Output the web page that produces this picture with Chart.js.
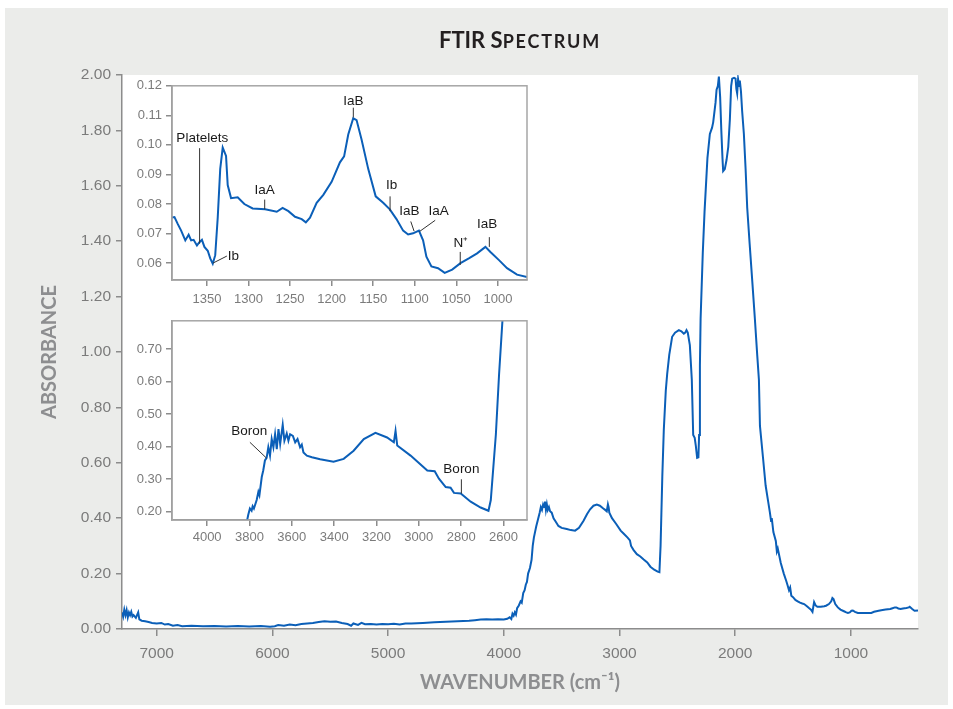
<!DOCTYPE html>
<html>
<head>
<meta charset="utf-8">
<title>FTIR Spectrum</title>
<script src="https://cdn.jsdelivr.net/npm/chart.js@4.4.1/dist/chart.umd.min.js"></script>
<style>
  html, body { margin: 0; padding: 0; background: #fff; }
  #page { position: relative; width: 953px; height: 709px; overflow: hidden; }
  #panel { position: absolute; left: 5px; top: 8px; width: 943px; height: 697px; background: #ebecea; }
  canvas { position: absolute; }
  #mainChart { left: 0; top: 0; }
  #insetTop { left: 120px; top: 74px; }
  #insetBottom { left: 120px; top: 309px; }
  #title {
    position: absolute; left: 122px; width: 796px; top: 26px;
    text-align: center; font-family: Lato, sans-serif; font-weight: 700;
    font-size: 22px; color: #231f20; line-height: 28px;
  }
  #title .sc { font-size: 18px; letter-spacing: 1.8px; }
</style>
</head>
<body>
<div id="page">
  <div id="panel"></div>
  <canvas id="mainChart" width="953" height="709"></canvas>
  <canvas id="insetTop" width="415" height="235"></canvas>
  <canvas id="insetBottom" width="415" height="245"></canvas>
  <div id="title">FTIR S<span class="sc">PECTRUM</span></div>
</div>
<script>
// ---- main spectrum (wavenumber in cm-1, absorbance) ----
const mainWavenumber = [
  7300, 7290, 7280, 7270, 7260, 7250, 7240, 7230, 7220, 7210,
  7200, 7180, 7160, 7150, 7130, 7100, 7070, 7040, 7000, 6960,
  6930, 6900, 6860, 6820, 6780, 6700, 6600, 6500, 6400, 6300,
  6200, 6100, 6020, 5980, 5950, 5900, 5850, 5800, 5750, 5700,
  5650, 5600, 5550, 5500, 5450, 5400, 5350, 5320, 5300, 5260,
  5230, 5200, 5150, 5100, 5050, 5000, 4950, 4900, 4850, 4800,
  4700, 4600, 4500, 4400, 4300, 4250, 4200, 4150, 4100, 4050,
  4000, 3970, 3950, 3935, 3925, 3915, 3905, 3895, 3885, 3870,
  3855, 3845, 3832, 3820, 3810, 3800, 3790, 3774, 3760, 3750,
  3740, 3720, 3702, 3690, 3680, 3670, 3660, 3650, 3644, 3636,
  3628, 3620, 3610, 3600, 3586, 3570, 3555, 3540, 3528, 3500,
  3456, 3420, 3384, 3350, 3312, 3280, 3254, 3225, 3196, 3170,
  3140, 3124, 3110, 3100, 3094, 3088, 3065, 3030, 2990, 2965,
  2930, 2910, 2900, 2878, 2850, 2820, 2791, 2760, 2733, 2700,
  2670, 2655, 2645, 2630, 2617, 2600, 2588, 2570, 2545, 2520,
  2487, 2465, 2444, 2432, 2421, 2410, 2392, 2375, 2363, 2350,
  2340, 2329, 2318, 2312, 2305, 2299, 2280, 2265, 2240, 2219,
  2200, 2190, 2170, 2161, 2150, 2141, 2136, 2130, 2120, 2110,
  2104, 2090, 2075, 2060, 2046, 2035, 2026, 2010, 1997, 1990,
  1983, 1975, 1965, 1960, 1950, 1940, 1925, 1910, 1896, 1875,
  1852, 1830, 1809, 1795, 1786, 1760, 1737, 1715, 1700, 1690,
  1684, 1670, 1649, 1640, 1632, 1606, 1580, 1560, 1548, 1535,
  1525, 1515, 1500, 1480, 1460, 1440, 1420, 1404, 1380, 1360,
  1345, 1332, 1325, 1318, 1305, 1290, 1260, 1230, 1215, 1190,
  1170, 1160, 1150, 1135, 1113, 1090, 1060, 1040, 1026, 1010,
  995, 983, 965, 940, 900, 860, 824, 800, 760, 738,
  700, 660, 640, 620, 608, 590, 570, 550, 536, 520,
  500, 492, 470, 450, 420
];
const mainAbsorbance = [
  0.06, 0.045, 0.07, 0.05, 0.068, 0.042, 0.06, 0.05, 0.062, 0.045,
  0.05, 0.04, 0.06, 0.035, 0.03, 0.028, 0.025, 0.022, 0.02, 0.022,
  0.016, 0.018, 0.012, 0.014, 0.01, 0.012, 0.01, 0.011, 0.009, 0.011,
  0.009, 0.011, 0.008, 0.01, 0.014, 0.012, 0.016, 0.014, 0.018, 0.02,
  0.022, 0.025, 0.028, 0.026, 0.027, 0.022, 0.018, 0.012, 0.02, 0.015,
  0.022, 0.017, 0.018, 0.016, 0.018, 0.017, 0.019, 0.016, 0.02, 0.02,
  0.022, 0.024, 0.026, 0.028, 0.03, 0.032, 0.034, 0.035, 0.034, 0.035,
  0.034, 0.037, 0.042, 0.036, 0.055, 0.048, 0.06, 0.052, 0.075, 0.085,
  0.1, 0.095, 0.13, 0.14, 0.16, 0.17, 0.2, 0.22, 0.25, 0.3,
  0.33, 0.37, 0.40, 0.42, 0.44, 0.43, 0.45, 0.44, 0.46, 0.43,
  0.45, 0.43, 0.44, 0.425, 0.42, 0.40, 0.39, 0.38, 0.372, 0.365,
  0.361, 0.357, 0.355, 0.365, 0.39, 0.415, 0.432, 0.445, 0.449, 0.445,
  0.435, 0.43, 0.425, 0.45, 0.44, 0.42, 0.40, 0.38, 0.355, 0.345,
  0.33, 0.32, 0.30, 0.285, 0.27, 0.262, 0.251, 0.24, 0.225, 0.214,
  0.207, 0.205, 0.30, 0.55, 0.72, 0.86, 0.92, 0.99, 1.055, 1.07,
  1.079, 1.075, 1.066, 1.07, 1.079, 1.07, 1.025, 0.90, 0.70, 0.69,
  0.66, 0.618, 0.62, 0.70, 0.95, 1.12, 1.36, 1.506, 1.70, 1.787,
  1.81, 1.83, 1.90, 1.947, 1.96, 1.994, 1.96, 1.92, 1.80, 1.70,
  1.653, 1.66, 1.693, 1.74, 1.84, 1.96, 1.987, 1.99, 1.987, 1.95,
  1.934, 1.985, 1.96, 1.98, 1.94, 1.87, 1.787, 1.66, 1.52, 1.39,
  1.253, 1.12, 0.985, 0.90, 0.733, 0.62, 0.518, 0.46, 0.42, 0.39,
  0.40, 0.35, 0.318, 0.28, 0.29, 0.238, 0.20, 0.175, 0.159, 0.14,
  0.15, 0.12, 0.115, 0.105, 0.1, 0.095, 0.092, 0.09, 0.082, 0.075,
  0.07, 0.062, 0.08, 0.097, 0.085, 0.08, 0.08, 0.082, 0.084, 0.09,
  0.1, 0.112, 0.108, 0.09, 0.078, 0.07, 0.064, 0.06, 0.058, 0.06,
  0.066, 0.067, 0.062, 0.058, 0.058, 0.058, 0.058, 0.062, 0.066, 0.068,
  0.07, 0.072, 0.075, 0.078, 0.078, 0.074, 0.072, 0.074, 0.075, 0.076,
  0.078, 0.08, 0.072, 0.066, 0.067
];
const mainXTicks = [7000, 6000, 5000, 4000, 3000, 2000, 1000];
const mainYTicks = [0, 0.2, 0.4, 0.6, 0.8, 1.0, 1.2, 1.4, 1.6, 1.8, 2.0];

// ---- top inset: 1400-950 cm-1 ----
const topWavenumber = [
  1392, 1389, 1385, 1381, 1376, 1372, 1369, 1366, 1362, 1359,
  1356, 1353, 1349, 1346, 1343, 1340, 1337, 1334, 1331, 1327,
  1325, 1321, 1313, 1305, 1295, 1280, 1266, 1259, 1252, 1244,
  1236, 1231, 1226, 1218, 1210, 1200, 1190, 1185, 1180, 1174,
  1170, 1164, 1156, 1147, 1138, 1130, 1122, 1114, 1108, 1102,
  1095, 1090, 1086, 1080, 1072, 1064, 1055, 1045, 1035, 1025,
  1015, 1009, 999, 989, 977, 965
];
const topAbsorbance = [
  0.0754, 0.0756, 0.0732, 0.071, 0.0677, 0.0696, 0.0677, 0.0679, 0.066, 0.0671,
  0.0679, 0.0655, 0.0642, 0.0616, 0.0598, 0.0627, 0.0754, 0.0919, 0.0991, 0.0963,
  0.0864, 0.082, 0.0823, 0.080, 0.0785, 0.0782, 0.0774, 0.0787, 0.0776, 0.0757,
  0.0749, 0.0738, 0.0754, 0.0804, 0.0831, 0.0875, 0.0941, 0.0961, 0.1035, 0.109,
  0.1084, 0.1018, 0.0919, 0.0826, 0.0804, 0.0782, 0.0749, 0.071, 0.0697, 0.0701,
  0.071, 0.0677, 0.0622, 0.0589, 0.0583, 0.0567, 0.0578, 0.06, 0.0616, 0.0633,
  0.0655, 0.0638, 0.0611, 0.0583, 0.0561, 0.0553
];
const topXTicks = [1350, 1300, 1250, 1200, 1150, 1100, 1050, 1000];
const topYTicks = [0.06, 0.07, 0.08, 0.09, 0.10, 0.11, 0.12];
// band labels: text anchor and leader line, in data units
const topNotes = [
  { text: 'Platelets', at: [1355.6, 0.1024], from: [1358.8, 0.0989], to: [1358.8, 0.0666] },
  { text: 'Ib', at: [1325, 0.0622], from: [1342.8, 0.0600], to: [1326, 0.0624], align: 'left' },
  { text: 'IaA', at: [1280.5, 0.0848], from: [1280.5, 0.0815], to: [1280.5, 0.0782] },
  { text: 'IaB', at: [1173.9, 0.1148], from: [1173.9, 0.1126], to: [1173.9, 0.1093] },
  { text: 'Ib', at: [1127.7, 0.0862], from: [1129.7, 0.0826], to: [1129.7, 0.0776] },
  { text: 'IaB', at: [1106.4, 0.0774], from: [1104.8, 0.0741], to: [1100.8, 0.0708] },
  { text: 'IaA', at: [1071.4, 0.0774], from: [1075.4, 0.0745], to: [1094.3, 0.0707] },
  { text: 'N\u207A', at: [1044.5, 0.0666], from: [1045.3, 0.0638], to: [1045.3, 0.0594] },
  { text: 'IaB', at: [1013.1, 0.0732], from: [1010.3, 0.0688], to: [1010.3, 0.0655] }
];

// ---- bottom inset: 4150-2500 cm-1 ----
const bottomWavenumber = [
  3815, 3806, 3798, 3790, 3785, 3779, 3766, 3758, 3753, 3742,
  3735, 3727, 3719, 3711, 3703, 3695, 3687, 3679, 3671, 3663,
  3655, 3643, 3635, 3624, 3616, 3608, 3595, 3584, 3573, 3561,
  3553, 3545, 3529, 3505, 3466, 3403, 3355, 3308, 3260, 3205,
  3150, 3118, 3110, 3102, 3039, 2960, 2925, 2905, 2873, 2850,
  2834, 2802, 2755, 2708, 2671, 2660, 2636, 2621, 2605, 2595
];
const bottomAbsorbance = [
  0.16, 0.189, 0.209, 0.202, 0.216, 0.209, 0.235, 0.26, 0.25, 0.306,
  0.326, 0.357, 0.365, 0.398, 0.372, 0.423, 0.398, 0.438, 0.392, 0.454,
  0.408, 0.467, 0.418, 0.44, 0.418, 0.438, 0.433, 0.413, 0.423, 0.398,
  0.406, 0.382, 0.372, 0.367, 0.361, 0.353, 0.362, 0.387, 0.423, 0.442,
  0.428, 0.413, 0.448, 0.403, 0.372, 0.326, 0.324, 0.301, 0.275, 0.273,
  0.257, 0.255, 0.23, 0.212, 0.202, 0.235, 0.438, 0.622, 0.788, 0.9
];
const bottomXTicks = [4000, 3800, 3600, 3400, 3200, 3000, 2800, 2600];
const bottomYTicks = [0.20, 0.30, 0.40, 0.50, 0.60, 0.70];
const bottomNotes = [
  { text: 'Boron', at: [3801, 0.448], from: [3798, 0.413], to: [3719, 0.364] },
  { text: 'Boron', at: [2799, 0.331], from: [2799, 0.299], to: [2799, 0.255] }
];

const LINE_BLUE = '#0b5fb8';
const AXIS_GRAY = '#8c8c8c';
const FRAME_GRAY = '#a6a6a6';
const TICK_GRAY = '#7b7b7b';
const TITLE_GRAY = '#8d8e90';
const TICK_FONT = "'Liberation Sans', Arial, sans-serif";

function toPoints(xs, ys) {
  return xs.map((x, i) => ({ x: x, y: ys[i] }));
}

// white plot background / light frame round the insets
const areaPlugin = {
  id: 'areaStyle',
  beforeDraw(chart, args, opts) {
    if (!opts.fill) return;
    const { ctx, chartArea: a } = chart;
    ctx.save();
    ctx.fillStyle = opts.fill;
    ctx.fillRect(a.left, a.top, a.right - a.left, a.bottom - a.top);
    ctx.restore();
  },
  afterDraw(chart, args, opts) {
    if (!opts.frame) return;
    const { ctx, chartArea: a } = chart;
    ctx.save();
    ctx.strokeStyle = opts.frame;
    ctx.lineWidth = 1.5;
    ctx.strokeRect(a.left, a.top, a.right - a.left, a.bottom - a.top);
    ctx.restore();
  }
};

// band labels with leader lines
const notesPlugin = {
  id: 'bandNotes',
  afterDatasetsDraw(chart, args, opts) {
    const notes = opts.notes || [];
    const { ctx, scales: { x, y } } = chart;
    ctx.save();
    notes.forEach(n => {
      ctx.strokeStyle = '#333';
      ctx.lineWidth = 1;
      ctx.beginPath();
      ctx.moveTo(x.getPixelForValue(n.from[0]), y.getPixelForValue(n.from[1]));
      ctx.lineTo(x.getPixelForValue(n.to[0]), y.getPixelForValue(n.to[1]));
      ctx.stroke();
      ctx.fillStyle = '#1a1a1a';
      ctx.font = "13.5px 'Liberation Sans', Arial, sans-serif";
      ctx.textAlign = n.align || 'center';
      ctx.textBaseline = 'middle';
      ctx.fillText(n.text, x.getPixelForValue(n.at[0]), y.getPixelForValue(n.at[1]));
    });
    ctx.restore();
  }
};

function lineDataset(xs, ys) {
  return {
    data: toPoints(xs, ys),
    borderColor: LINE_BLUE,
    borderWidth: 2,
    pointRadius: 0,
    tension: 0
  };
}

function axis(opts) {
  return {
    type: 'linear',
    reverse: !!opts.reverse,
    min: opts.min,
    max: opts.max,
    afterBuildTicks: s => { s.ticks = opts.ticks.map(v => ({ value: v })); },
    afterFit: s => { if (opts.width) s.width = opts.width; if (opts.height) s.height = opts.height; },
    grid: { drawOnChartArea: false, tickLength: opts.tickLength, color: AXIS_GRAY, lineWidth: 1.5 },
    border: { color: AXIS_GRAY, width: 1.5 },
    ticks: {
      color: TICK_GRAY,
      font: { family: TICK_FONT, size: opts.fontSize },
      padding: opts.padding,
      maxRotation: 0,
      autoSkip: false,
      callback: opts.format
    },
    title: opts.title || { display: false }
  };
}

const baseOptions = {
  responsive: false,
  animation: false,
  events: []
};

// main chart
new Chart(document.getElementById('mainChart'), {
  type: 'line',
  data: { datasets: [lineDataset(mainWavenumber, mainAbsorbance)] },
  plugins: [areaPlugin],
  options: {
    ...baseOptions,
    layout: { padding: { left: 0, top: 75, right: 35, bottom: 0 } },
    plugins: {
      legend: { display: false },
      tooltip: { enabled: false },
      areaStyle: { fill: '#ffffff' }
    },
    scales: {
      x: axis({
        reverse: true, min: 420, max: 7300, ticks: mainXTicks, height: 80,
        tickLength: 7, fontSize: 15.5, padding: 8, format: v => String(v),
        title: {
          display: true, text: 'WAVENUMBER (cm\u207B\u00B9)', color: TITLE_GRAY,
          font: { family: 'Lato, sans-serif', size: 20, weight: 'bold' },
          padding: { top: 0, bottom: 14 }
        }
      }),
      y: axis({
        min: 0, max: 2, ticks: mainYTicks, width: 122,
        tickLength: 6, fontSize: 15.5, padding: 5, format: v => v.toFixed(2),
        title: {
          display: true, text: 'ABSORBANCE', color: TITLE_GRAY,
          font: { family: 'Lato, sans-serif', size: 20, weight: 'bold' },
          padding: { top: 38, bottom: 0 }
        }
      })
    }
  }
});

// top inset
new Chart(document.getElementById('insetTop'), {
  type: 'line',
  data: { datasets: [lineDataset(topWavenumber, topAbsorbance)] },
  plugins: [areaPlugin, notesPlugin],
  options: {
    ...baseOptions,
    layout: { padding: { left: 0, top: 10, right: 8, bottom: 0 } },
    plugins: {
      legend: { display: false },
      tooltip: { enabled: false },
      areaStyle: { fill: '#ffffff', frame: FRAME_GRAY },
      bandNotes: { notes: topNotes }
    },
    scales: {
      x: axis({
        reverse: true, min: 965, max: 1392, ticks: topXTicks, height: 29,
        tickLength: 6, fontSize: 13, padding: 6, format: v => String(v)
      }),
      y: axis({
        min: 0.0543, max: 0.12, ticks: topYTicks, width: 52,
        tickLength: 6, fontSize: 13, padding: 4, format: v => v.toFixed(2)
      })
    }
  }
});

// bottom inset
new Chart(document.getElementById('insetBottom'), {
  type: 'line',
  data: { datasets: [lineDataset(bottomWavenumber, bottomAbsorbance)] },
  plugins: [areaPlugin, notesPlugin],
  options: {
    ...baseOptions,
    layout: { padding: { left: 0, top: 10, right: 8, bottom: 0 } },
    plugins: {
      legend: { display: false },
      tooltip: { enabled: false },
      areaStyle: { fill: '#ffffff', frame: FRAME_GRAY },
      bandNotes: { notes: bottomNotes }
    },
    scales: {
      x: axis({
        reverse: true, min: 2489, max: 4166, ticks: bottomXTicks, height: 34,
        tickLength: 6, fontSize: 13, padding: 4, format: v => String(v)
      }),
      y: axis({
        min: 0.1735, max: 0.7876, ticks: bottomYTicks, width: 52,
        tickLength: 6, fontSize: 13, padding: 4, format: v => v.toFixed(2)
      })
    }
  }
});
</script>
</body>
</html>
